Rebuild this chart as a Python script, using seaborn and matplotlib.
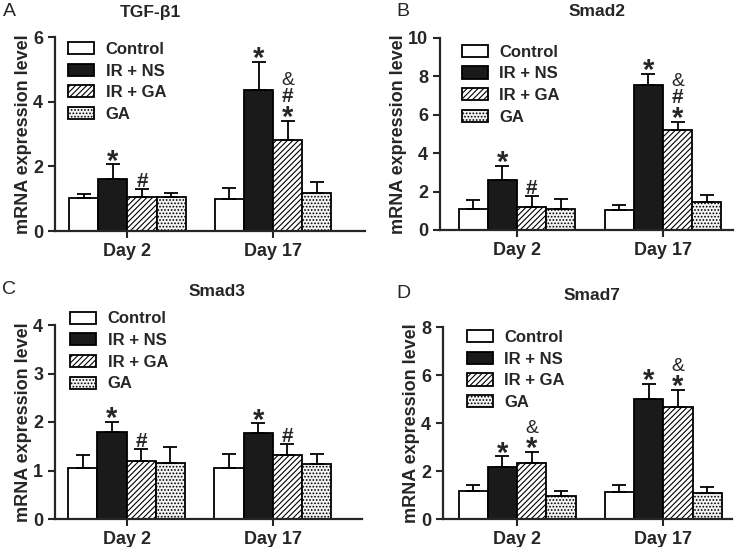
import pandas as pd
import seaborn as sns
import matplotlib.pyplot as plt

# groups and days
groups = ['Control', 'IR + NS', 'IR + GA', 'GA']
days = ['Day 2', 'Day 17']

# mean values and error-bar tops (Day 2, Day 17) per group
tgf_mean = {'Control': [1.01, 0.98], 'IR + NS': [1.60, 4.35], 'IR + GA': [1.06, 2.81], 'GA': [1.04, 1.18]}
tgf_top = {'Control': [1.14, 1.32], 'IR + NS': [2.06, 5.24], 'IR + GA': [1.29, 3.41], 'GA': [1.18, 1.52]}
smad2_mean = {'Control': [1.09, 1.02], 'IR + NS': [2.60, 7.54], 'IR + GA': [1.21, 5.23], 'GA': [1.09, 1.44]}
smad2_top = {'Control': [1.54, 1.28], 'IR + NS': [3.34, 8.15], 'IR + GA': [1.77, 5.63], 'GA': [1.61, 1.82]}
smad3_mean = {'Control': [1.05, 1.05], 'IR + NS': [1.79, 1.77], 'IR + GA': [1.20, 1.31], 'GA': [1.15, 1.13]}
smad3_top = {'Control': [1.31, 1.33], 'IR + NS': [2.01, 1.97], 'IR + GA': [1.44, 1.55], 'GA': [1.48, 1.33]}
smad7_mean = {'Control': [1.18, 1.13], 'IR + NS': [2.16, 5.01], 'IR + GA': [2.35, 4.65], 'GA': [0.97, 1.07]}
smad7_top = {'Control': [1.42, 1.42], 'IR + NS': [2.61, 5.63], 'IR + GA': [2.81, 5.37], 'GA': [1.18, 1.34]}

# significance marks, bottom to top
tgf_sig = {'Control': ['', ''], 'IR + NS': ['*', '*'], 'IR + GA': ['#', '*#&'], 'GA': ['', '']}
smad2_sig = {'Control': ['', ''], 'IR + NS': ['*', '*'], 'IR + GA': ['#', '*#&'], 'GA': ['', '']}
smad3_sig = {'Control': ['', ''], 'IR + NS': ['*', '*'], 'IR + GA': ['#', '#'], 'GA': ['', '']}
smad7_sig = {'Control': ['', ''], 'IR + NS': ['*', '*'], 'IR + GA': ['*&', '*&'], 'GA': ['', '']}

panels = [
    ('A', 'TGF-β1', tgf_mean, tgf_top, tgf_sig, 6, [0, 2, 4, 6]),
    ('B', 'Smad2', smad2_mean, smad2_top, smad2_sig, 10, [0, 2, 4, 6, 8, 10]),
    ('C', 'Smad3', smad3_mean, smad3_top, smad3_sig, 4, [0, 1, 2, 3, 4]),
    ('D', 'Smad7', smad7_mean, smad7_top, smad7_sig, 8, [0, 2, 4, 6, 8]),
]

sns.set_style('ticks')
plt.rcParams['font.family'] = ['Liberation Sans', 'DejaVu Sans']
plt.rcParams['hatch.linewidth'] = 0.8

fig = plt.figure(figsize=(7.37, 5.47), dpi=100)
W, H = 737, 547

# axes boxes in pixels: left, right, top(ymax), bottom(y0), xlim
boxes = [
    (55, 365, 37, 231, (-0.497, 1.63)),
    (440, 733, 38, 230, (-0.527, 1.48)),
    (55, 362, 325, 519, (-0.49, 1.61)),
    (443, 732, 327, 519, (-0.507, 1.47)),
]
titles_px = [(150, 13), (597, 12), (217, 292), (592, 295)]
letters_px = [(9, 11), (403, 11), (9, 290), (403, 293)]
legend_pos = [(0.042, 0.975), (0.075, 0.965), (0.049, 1.07), (0.083, 0.985)]
hatches = ['', '', '//////', '.....']
colors = ['white', '#1a1a1a', 'white', '#f4f4f4']
# symbol style: fontsize, weight, glyph bottom (fraction of fontsize)
sym_style = {'*': (21, 'bold', 0.25), '#': (15, 'bold', 0.0), '&': (14, 'normal', 0.0)}

for (letter, title, mean, top, sig, ymax, yticks), (l, r, t, b, xl), tp, lp, lg in zip(
        panels, boxes, titles_px, letters_px, legend_pos):
    ax = fig.add_axes([l / W, 1 - b / H, (r - l) / W, (b - t) / H])
    rows = []
    for g in groups:
        for i, d in enumerate(days):
            rows.append({'day': d, 'group': g, 'value': mean[g][i]})
    df = pd.DataFrame(rows)
    sns.barplot(data=df, x='day', y='value', hue='group', hue_order=groups,
                palette=colors, edgecolor='black', linewidth=1.3,
                errorbar=None, width=0.8, ax=ax, legend=False)
    for cont, g, h in zip(ax.containers, groups, hatches):
        for i, bar in enumerate(cont):
            bar.set_hatch(h)
            x = bar.get_x() + bar.get_width() / 2
            y = bar.get_height()
            ax.errorbar(x, y, yerr=[[0], [top[g][i] - y]], fmt='none',
                        ecolor='black', elinewidth=1.3, capsize=5, capthick=1.3,
                        zorder=1)
            for k, s in enumerate(sig[g][i]):
                fs, fw, gb = sym_style[s]
                ax.annotate(s, (x, top[g][i]), xytext=(0, 1.5 + k * 12 - gb * fs),
                            textcoords='offset points', ha='center', va='baseline',
                            fontsize=fs, fontweight=fw)
    ax.legend(ax.containers, groups, loc='upper left', bbox_to_anchor=lg,
              frameon=False, borderpad=0, borderaxespad=0,
              handlelength=1.55, handleheight=0.75, labelspacing=0.4,
              handletextpad=0.7, prop={'weight': 'bold', 'size': 12})
    ax.set_xlim(*xl)
    ax.set_ylim(0, ymax)
    ax.set_yticks(yticks)
    ax.set_xlabel('')
    ax.set_ylabel('mRNA expression level', fontsize=13, fontweight='bold', labelpad=1)
    ax.tick_params(width=1.5, length=5, labelsize=13)
    for lab in ax.get_xticklabels() + ax.get_yticklabels():
        lab.set_fontweight('bold')
    sns.despine(ax=ax)
    for sp in ['left', 'bottom']:
        ax.spines[sp].set_linewidth(1.6)
    fig.text(tp[0] / W, 1 - tp[1] / H, title, ha='center', va='center',
             fontsize=12.5, fontweight='bold')
    fig.text(lp[0] / W, 1 - lp[1] / H, letter, ha='center', va='center', fontsize=14)

fig.savefig('out.png', dpi=100)
